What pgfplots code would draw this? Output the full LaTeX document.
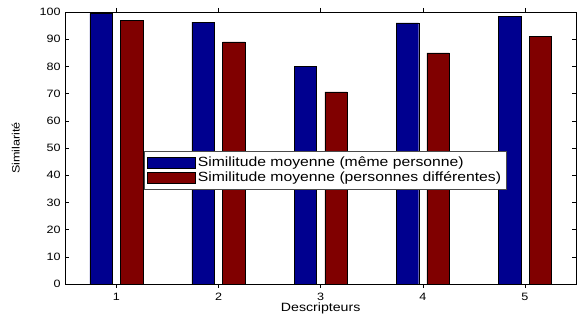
\documentclass[border=0pt]{standalone}
\usepackage{pgfplots}
\pgfplotsset{compat=1.18}
\usepackage{fontspec}
\setmainfont{Liberation Sans}
\newfontfamily\widefont[FakeStretch=1.18]{Liberation Sans}
\definecolor{mblue}{RGB}{0,0,143}
\definecolor{mred}{RGB}{128,0,0}
\begin{document}
\begin{tikzpicture}
\begin{axis}[
  scale only axis,
  width=383pt, height=204pt,
  xmin=0.5, xmax=5.5, ymin=0, ymax=100,
  xtick={1,2,3,4,5},
  ytick={0,10,...,100},
  tick align=inside,
  major tick length=3pt,
  tick style={black, line width=0.4pt},
  xtick pos=both, ytick pos=both,
  ticklabel style={font=\widefont\fontsize{8}{9}\selectfont},
  /pgf/number format/assume math mode=true,
  xlabel={Descripteurs},
  ylabel={Similarité},
  xlabel style={font=\widefont\fontsize{9}{10}\selectfont, yshift=5pt},
  ylabel style={font=\widefont\fontsize{8}{9}\selectfont, yshift=8pt},
  ybar=0pt,
  bar width=0.22,
  legend style={at={(0.509,0.419)}, anchor=center, font=\widefont\fontsize{10}{12}\selectfont,
    draw=black!70, row sep=-1.5pt, inner sep=2pt, cells={anchor=west}},
  legend image code/.code={\draw[#1, draw=black] (0pt,-4pt) rectangle (36pt,4pt);},
]
\addplot[fill=mblue, draw=black, line width=0.3pt, bar shift=-0.15] coordinates {(1,99.5) (2,96.3) (3,80) (4,96) (5,98.5)};
\addplot[fill=mred, draw=black, line width=0.3pt, bar shift=0.15] coordinates {(1,97) (2,89) (3,70.6) (4,85) (5,91)};
\legend{Similitude moyenne (même personne), Similitude moyenne (personnes différentes)}
\end{axis}
\path ([xshift=-49pt,yshift=-22.5pt]current axis.south west) rectangle ([xshift=1.5pt,yshift=9pt]current axis.north east);
\end{tikzpicture}
\end{document}
